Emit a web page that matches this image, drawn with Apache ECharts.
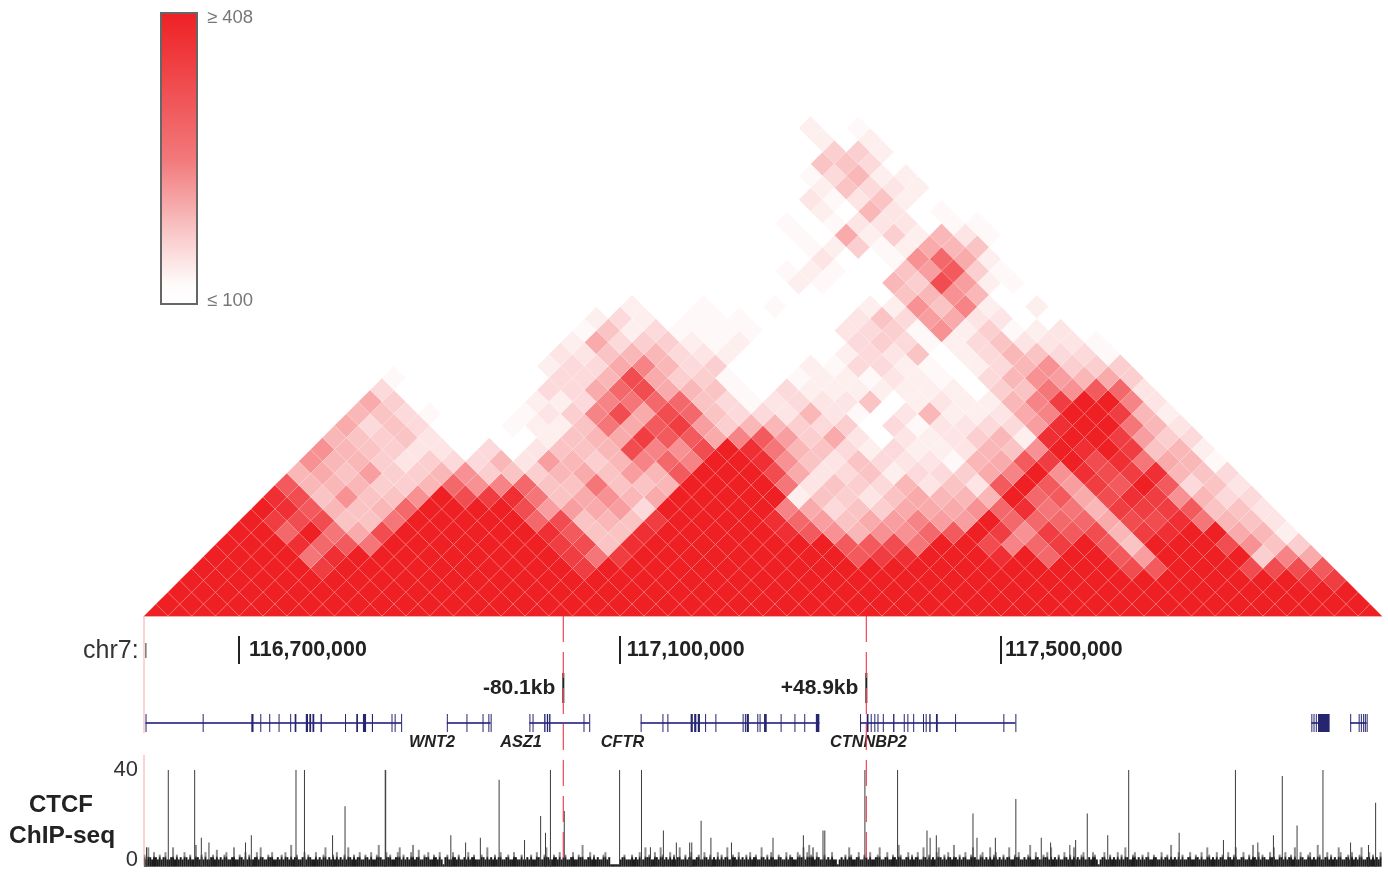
<!DOCTYPE html>
<html>
<head>
<meta charset="utf-8">
<title>Hi-C CFTR locus</title>
<script src="https://cdn.jsdelivr.net/npm/echarts@6/dist/echarts.min.js"></script>
<style>
  html, body { margin: 0; padding: 0; background: #fff; }
  #chart { width: 1388px; height: 874px; }
</style>
</head>
<body>
<div id="chart"></div>
<script>
// all x positions are kb from the left end of the window (chr7:116,600,000)
const regionStart = 116600
const binSize = 25
const regionLength = 1300

// contact levels, one string per distance d (index = bins between anchors), one char per bin
// 0-9 = level, a-i = half levels (a=.5, b=1.5 ... i=8.5), 0 is <=100 and 9 is >=408
const hicRows = [
  '9999999999999999999999999999999999999999999999999999',
  '999999999999999999999999999999999999999999999999999',
  '99999999999999999999999999999999999999999999999999',
  '99999999999999999999999999999999999999999999999i8',
  '999998' + '9999999999' + '8' + '9999999999999999999999' + 'h7' + '999' + 'hhh7',
  '99996i9' + '99999999868' + '999999999' + '78i999i9g997e9999cf4',
  '999ig76' + '99999998h3i' + '999999997' + '7h699hfg8973999h53c',
  '99g964h' + '999999i733i' + '99999i75d' + '55g798587hd8i994d1',
  '98hh336' + '99999gh3d38' + '9999ige34' + 'efee9gggg4hhi6d3b',
  '9i7d3dg' + '9999hee4e29' + '9999f423c' + '4445gi66d888733b',
  'ih35335' + '9h8i6345d49' + '999913cb3' + '4ddd9g74hi85d22',
  '7dddccd' + 'g5fg33633d9' + '9996b3c2d' + 'b3b797e879723b',
  'd43eccd' + '5c3cd43ed79' + '99h4b2312' + '2c4f95ih8id32',
  '5ddcbc2' + '2dbedcdfgf9' + '9i53b32bb' + 'ad4789hi64da',
  '5d3cbb0' + '20b33dhf5h9' + 'i6d321211' + 'bd359i983d1',
  'd3c3b00' + '0013d48774f' + '7ec4b0b1b' + 'cd1i998ec2',
  '4232000' + 'a1136478ecd' + 'dc2c02abb' + '22ei996db',
  'd32a000' + 'abcfh4hg322' + 'bdba0bd11' + 'b4f998d1',
  '4c00000' + '112f6gg32a' + 'b2bb301b1' + '1df899fb',
  '2000000' + '224gh4d3a0' + '211111110' + 'c3657gb',
  'a000000' + '22dh4cca' + '00' + 'a11ab1a0' + '2d5ed4c',
  '000000' + '1224fd2c' + '000' + '1a221a0' + '12d5ccc',
  '000000' + 'bb3dd2b1' + '0000' + '12b30' + '12d322a',
  '000000' + '142cc1a1' + '0000' + '2c2a123bbba',
  '000000' + 'a312aaaa' + '000' + 'b2ca51ca1b0',
  '0000001210aaa0000b32e4bb000',
  '0000000100a00a0001153f1010',
  '0000000000000000003d5d000',
  '00000000000001a00dche1a0',
  '000000000000a1a003e7ca0',
  '0000000000000b00a5g410',
  '000000000000a1ca14d30',
  '00000000000a041c1dba',
  '0000000000a0abbb0aa',
  '0000000000010db0a0',
  '0000000000bab3100',
  '0000000000132b10',
  '000000000a2d110',
  '00000000033200',
  '000000000cc10',
  '000000001010',
  '000000010a0'
]

// gene models, kb from window start
const geneNames = ['WNT2', 'ASZ1', 'CFTR', 'CTNNBP2']
const geneNameAt = [302.4, 395.9, 502.4, 760.7]
const geneSpans = [
  [1.6, 270.2], [318, 364], [404.7, 467.5], [521.5, 709.2], [751.9, 915], [1225.8, 1232.8], [1266.6, 1283.9]
]
const exons = [
  [1.6,2],[61.6,62],[112.7,115],[122.1,122.5],[131.5,131.9],[141.3,141.7],[153.5,153.9],[158.2,160],[169.9,172.2],
  [173.6,175.5],[176.9,178.8],[185.4,186.8],[211.1,211.5],[222.9,224.7],[229.9,233.2],[239.3,240.5],[259.9,260.3],
  [263.2,264.1],[270,270.4],
  [318,319],[338.6,339],[355.5,355.9],[361.6,362],[364,364.4],
  [404.7,405.1],[408,408.4],[420.2,421.6],[423,424.4],[425.4,426.8],[461.5,462.4],[467.5,467.9],
  [521.5,521.9],[544.4,544.8],[549.6,550],[574,576.3],[577.7,580],[581.5,583.8],[589.2,589.6],[600,600.4],
  [628.6,629.5],[631,631.4],[632.8,635.2],[644,644.4],[646.4,646.8],[651.1,653.9],[668.5,668.9],[683,683.4],
  [693.3,693.7],[705.5,709.2],
  [751.9,752.3],[758.9,760.8],[763.1,763.5],[766.9,767.3],[770.2,770.6],[775.8,776.2],[786.6,788],[797.8,798.2],
  [801.6,802],[807.7,808.1],[818,818.4],[820.8,821.2],[824.6,826],[831.6,833.5],[851.7,852.1],[902.4,902.8],[915,915.4],
  [1225.8,1226.2],[1228.1,1228.5],[1230.5,1230.9],[1232.8,1245],[1266.6,1267],[1275.5,1275.9],[1277.8,1278.2],
  [1280.2,1280.6],[1282,1282.4],[1283.9,1284.3]
]

// CTCF boundary distance marks
const boundaryAt = [440.3, 758.5]
const boundaryText = ['-80.1kb', '+48.9kb']

// ruler ticks and where their labels start
const rulerTicks = [100, 500, 900]
const rulerLabelAt = [110.3, 507, 904]

const chipPeakAt = [25.5,53.2,159.6,168.5,253.3,253.8,211.1,372.9,426.8,416.5,421.6,441.3,499.4,522.4,545.4,60.2,112.7,198,
  322.2,353.2,399.6,337.7,573,2.6,68.2,106.6,531.8,559,757,791.3,1034,1146.1,1195.3,1238,1293.3,915.5,870.5,990.5,585,1210.8,
  1087,822.2,713,714.9,1186,660.5,595.3,692.4,825.5,832,874.7,894,942.2,1012,978.3,1133.5,1169.6,616.9,575.2,972.2,952,1267,1285.8]
const chipPeakVal = [40,40,40,40,40,40,25,36,40,21,14,23,40,40,15,12,13,13,
  13,12,11,10,10,8,10,10,8,10,40,40,40,40,37.5,40,26.5,28,22,22,19,17,
  14,15,15,15,13,12,12,13,12,13,12,12,12,13,11,11,10,10,10,9,10,10,9]

// background signal, one reading every 2 kb
const chipBgStep = 2
const chipBg = [
  5,3,8,4,3,6,4,3,5,3,4,6,3,3,4,8,3,5,3,4,3,6,4,3,5,3,3,9,4,3,5,3,6,3,3,4,5,3,7,3,4,3,5,6,3,3,4,8,3,3,
  5,4,3,6,3,5,3,3,4,6,3,8,4,3,3,5,4,6,3,3,4,3,5,3,6,4,3,9,3,4,5,3,3,4,6,3,5,4,3,3,6,3,4,3,5,8,3,4,3,5,
  3,6,3,4,3,5,3,8,4,3,5,3,4,6,3,3,5,4,3,6,3,3,5,9,4,3,3,6,4,5,3,3,4,6,8,3,5,3,4,3,6,9,3,4,7,3,3,5,4,6,
  3,3,5,4,3,6,3,1,4,5,3,3,6,4,3,5,3,3,4,3,6,3,4,5,3,3,3,5,4,3,8,3,4,3,5,3,4,6,3,3,4,5,3,3,6,4,3,3,5,3,
  3,4,3,5,3,3,6,4,3,3,5,8,4,3,3,5,4,3,6,3,4,5,3,3,4,6,3,3,5,4,9,3,3,4,6,3,5,3,4,3,3,5,6,3,4,1,1,1,1,1,
  3,4,5,3,3,3,5,3,4,3,6,3,3,8,4,5,3,3,6,4,3,8,5,3,4,3,6,3,5,3,4,8,3,3,5,3,4,6,3,3,4,5,3,3,6,4,3,5,3,4,
  3,6,3,5,3,4,8,3,3,5,4,3,6,3,4,3,5,3,6,3,4,5,3,3,8,4,3,5,3,6,4,3,3,5,4,3,3,6,3,5,4,3,3,6,5,4,8,3,6,9,
  5,8,3,6,4,3,3,5,3,4,3,6,3,3,1,3,4,3,5,3,8,5,3,3,4,6,3,3,5,4,3,6,3,3,4,5,8,3,3,4,6,3,3,5,4,3,9,5,3,3,
  4,6,3,5,3,4,6,3,3,8,4,3,5,3,4,3,6,8,4,3,5,3,6,4,3,9,4,3,5,3,4,6,3,3,5,8,4,3,3,5,6,3,4,3,8,3,5,6,3,4,
  3,5,3,4,8,3,3,5,4,6,3,3,4,3,5,9,3,3,6,4,3,3,5,4,6,3,8,3,4,3,5,3,3,6,4,3,5,3,8,3,4,3,5,6,3,3,4,3,6,5,
  3,1,3,4,6,3,3,5,3,4,3,6,3,5,3,8,4,3,3,5,6,3,4,3,5,3,4,6,3,3,5,4,3,3,6,3,4,5,3,9,3,4,3,6,3,5,3,3,4,6,
  3,3,5,4,3,6,3,3,8,5,3,4,3,6,3,4,5,3,3,6,4,3,5,8,3,3,4,6,3,3,5,3,9,4,3,6,3,5,4,3,3,6,4,8,3,3,5,4,3,6,
  3,4,5,3,8,3,3,6,4,3,3,5,6,3,4,3,9,5,3,3,4,6,3,5,3,4,3,8,6,3,3,4,5,3,6,3,4,3,5,8,3,3,4,6,3,5,3,4,3,6
]

// pink guides, in px below the matrix base
const guideLeftSpans = [[0, 117], [139, 250]]

const chart = echarts.init(document.getElementById('chart'))

// one cell per pair of bins
function cellsFromRows(rows) {
  let cells = []
  rows.forEach((row, d) => {
    row.split('').forEach((ch, i) => {
      let level = ch >= 'a' ? ch.charCodeAt(0) - 97 + 0.5 : Number(ch)
      cells.push([(i + (d + 1) / 2) * binSize, d, 100 + 308 * Math.pow(level / 9, 1.2)])
    })
  })
  return cells
}

function renderCell(params, api) {
  let x = api.value(0), d = api.value(1), half = binSize / 2
  let points = [[x - half, d], [x, d + 1], [x + half, d], [x, d - 1]].map(p => api.coord(p))
  return {
    type: 'polygon',
    shape: { points: points },
    style: { fill: api.visual('color'), stroke: 'rgba(255,255,255,0.14)', lineWidth: 0.8 }
  }
}

function renderIntron(params, api) {
  let a = api.coord([api.value(0), 0.5]), b = api.coord([api.value(1), 0.5])
  return { type: 'line', shape: { x1: a[0], y1: a[1], x2: b[0], y2: b[1] }, style: { stroke: '#4c4c9a', lineWidth: 2 } }
}

function renderExon(params, api) {
  let a = api.coord([api.value(0), 1]), b = api.coord([api.value(1), 0])
  return {
    type: 'rect',
    shape: { x: a[0], y: a[1], width: Math.max(b[0] - a[0], 1), height: b[1] - a[1] },
    style: { fill: '#26266f' }
  }
}

function renderBoundary(params, api) {
  let a = api.coord([api.value(0), 3.28]), b = api.coord([api.value(0), 1.61])
  return {
    type: 'group',
    children: [
      { type: 'line', shape: { x1: a[0], y1: a[1], x2: b[0], y2: b[1] }, style: { stroke: '#222', lineWidth: 2 } },
      { type: 'text', style: {
        x: a[0] - 8, y: (a[1] + b[1]) / 2, text: boundaryText[params.dataIndex], align: 'right', verticalAlign: 'middle',
        fill: '#222', font: 'bold 21px "Liberation Sans"'
      } }
    ]
  }
}

function renderGeneName(params, api) {
  let p = api.coord([api.value(0), -0.58])
  return { type: 'text', style: {
    x: p[0], y: p[1], text: geneNames[params.dataIndex], align: 'center', verticalAlign: 'middle',
    fill: '#222', font: 'italic bold 16.3px "Liberation Sans"'
  } }
}

function renderRulerLabel(params, api) {
  let p = api.coord([api.value(0), 0.5])
  return { type: 'text', style: {
    x: p[0], y: p[1], align: 'left', verticalAlign: 'middle', fill: '#222', font: 'bold 21.4px "Liberation Sans"',
    text: ((regionStart + rulerTicks[params.dataIndex]) * 1000).toLocaleString('en-US')
  } }
}

const xHidden = { type: 'value', min: 0, max: regionLength, show: false }
const guideSeries = []
boundaryAt.forEach(x => {
  guideSeries.push({
    type: 'line', xAxisIndex: 4, yAxisIndex: 4, symbol: 'none', silent: true, z: 5,
    lineStyle: { color: '#ee4455', width: 1.2, type: [26, 10] },
    data: [[x, 0], [x, 250]]
  })
})
guideLeftSpans.forEach(s => {
  guideSeries.push({
    type: 'line', xAxisIndex: 4, yAxisIndex: 4, symbol: 'none', silent: true,
    lineStyle: { color: '#f7a8a8', width: 1 },
    data: [[0, s[0]], [0, s[1]]]
  })
})
guideSeries.push({
  type: 'line', xAxisIndex: 4, yAxisIndex: 4, symbol: 'none', silent: true,
  lineStyle: { color: '#333', width: 1 },
  data: [[2, 27], [2, 42]]
})

let option = {
  animation: false,
  textStyle: { fontFamily: '"Liberation Sans", Arial, sans-serif' },
  grid: [
    { left: 144, width: 1238, top: 92.4, height: 523.6 },
    { left: 144, width: 1238, top: 636, height: 28 },
    { left: 144, width: 1238, top: 660, height: 108 },
    { left: 144, width: 1238, top: 770, height: 96.7 },
    { left: 144, width: 1238, top: 616, height: 250 }
  ],
  xAxis: [
    { gridIndex: 0, type: 'value', min: 0, max: regionLength, axisLine: { show: true, lineStyle: { color: '#f7a8a8' } },
      axisTick: { show: false }, axisLabel: { show: false }, splitLine: { show: false } },
    { gridIndex: 1, type: 'value', min: 0, max: regionLength, axisLine: { show: false }, splitLine: { show: false },
      axisTick: { show: true, inside: true, length: 28, customValues: rulerTicks, lineStyle: { color: '#222', width: 2 } },
      axisLabel: { show: false } },
    Object.assign({ gridIndex: 2 }, xHidden),
    Object.assign({ gridIndex: 3 }, xHidden),
    Object.assign({ gridIndex: 4 }, xHidden)
  ],
  yAxis: [
    { gridIndex: 0, type: 'value', min: 0, max: 44, show: false },
    { gridIndex: 1, type: 'value', min: 0, max: 1, show: false },
    { gridIndex: 2, type: 'value', min: -2, max: 4, show: false },
    { gridIndex: 3, type: 'value', min: 0, max: 40, interval: 40, splitLine: { show: false }, axisLine: { show: false }, axisTick: { show: false },
      axisLabel: { fontSize: 22, color: '#333', margin: 6, verticalAlignMinLabel: 'middle', verticalAlignMaxLabel: 'middle', fontFamily: 'Liberation Sans',
        formatter: v => v === 0 ? '{zero|0}' : String(v),
        rich: { zero: { fontSize: 22, color: '#333', padding: [0, 0, 14, 0], fontFamily: 'Liberation Sans' } } } },
    { gridIndex: 4, type: 'value', min: 0, max: 250, inverse: true, show: false }
  ],
  visualMap: {
    type: 'continuous', show: false, seriesIndex: 0, dimension: 2, min: 100, max: 408,
    inRange: { color: ['#ffffff', '#ee2024'] }
  },
  graphic: [
    { type: 'rect', left: 160, top: 12, shape: { width: 36, height: 291 }, z: 50,
      style: { stroke: '#666', lineWidth: 2, fill: { type: 'linear', x: 0, y: 0, x2: 0, y2: 1, colorStops: [
        { offset: 0, color: '#ee2024' }, { offset: 0.5, color: '#f2787a' }, { offset: 0.75, color: '#f9c6c7' },
        { offset: 0.93, color: '#fffbfb' }, { offset: 1, color: '#ffffff' }
      ] } } },
    { type: 'text', left: 207, top: 8, style: { text: '\u2265 408', fill: '#777', font: '18.5px "Liberation Sans"' } },
    { type: 'text', left: 207, top: 291, style: { text: '\u2264 100', fill: '#777', font: '18.5px "Liberation Sans"' } },
    { type: 'text', left: 83, top: 639, style: { text: 'chr7:', fill: '#333', font: '25px "Liberation Sans"' } },
    { type: 'text', left: 29, top: 793, style: { text: 'CTCF', fill: '#222', font: 'bold 24px "Liberation Sans"' } },
    { type: 'text', left: 9, top: 824, style: { text: 'ChIP-seq', fill: '#222', font: 'bold 24.5px "Liberation Sans"' } }
  ],
  series: [
    { type: 'custom', xAxisIndex: 0, yAxisIndex: 0, clip: true, silent: true, renderItem: renderCell,
      encode: { x: 0, y: 1 }, data: cellsFromRows(hicRows) },
    { type: 'custom', xAxisIndex: 2, yAxisIndex: 2, silent: true, renderItem: renderIntron, data: geneSpans },
    { type: 'custom', xAxisIndex: 2, yAxisIndex: 2, silent: true, renderItem: renderExon, data: exons },
    { type: 'custom', xAxisIndex: 2, yAxisIndex: 2, silent: true, renderItem: renderBoundary, data: boundaryAt.map(x => [x]) },
    { type: 'custom', xAxisIndex: 2, yAxisIndex: 2, silent: true, renderItem: renderGeneName, data: geneNameAt.map(x => [x]) },
    { type: 'custom', xAxisIndex: 1, yAxisIndex: 1, silent: true, clip: false, renderItem: renderRulerLabel, data: rulerLabelAt.map(x => [x]) },
    { type: 'bar', xAxisIndex: 3, yAxisIndex: 3, silent: true, barWidth: 2, barGap: '-100%',
      itemStyle: { color: { type: 'linear', global: true, x: 0, y: 846, x2: 0, y2: 866, colorStops: [
        { offset: 0, color: '#8c8c8c' }, { offset: 0.5, color: '#8c8c8c' }, { offset: 0.6, color: '#1d1d1d' }, { offset: 1, color: '#1d1d1d' }
      ] } },
      data: chipBg.map((v, k) => [k * chipBgStep, v]) },
    { type: 'bar', xAxisIndex: 3, yAxisIndex: 3, silent: true, barWidth: 1, barGap: '-100%', z: 3,
      itemStyle: { color: '#3c3c3c' },
      data: chipPeakAt.map((x, k) => [x, chipPeakVal[k]]) }
  ].concat(guideSeries)
}

chart.setOption(option)
</script>
</body>
</html>
